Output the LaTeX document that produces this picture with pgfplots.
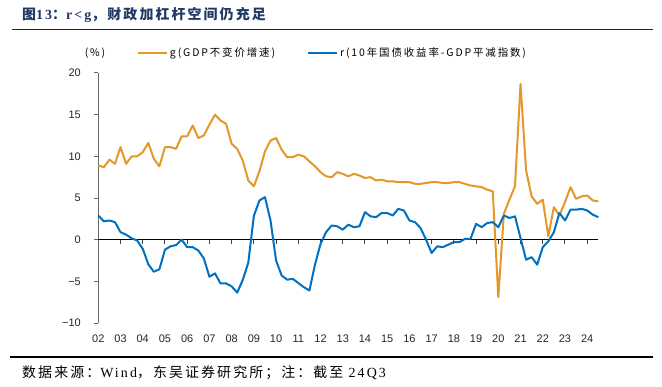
\documentclass[border=0pt]{standalone}
\usepackage{fontspec}
\usepackage{pgfplots}
\usepackage{pgfplotstable}
\pgfplotsset{compat=1.18}
\setmainfont{Liberation Sans}
\newfontfamily\cjk{Noto Sans CJK SC}
\newfontfamily\cjkleg{Noto Sans CJK SC}[LetterSpace=18]
\newfontfamily\cjktitle{Noto Sans CJK SC}[LetterSpace=15]
\newfontfamily\serif{Liberation Serif}
\newfontfamily\serifls{Liberation Serif}[LetterSpace=15]
\definecolor{gorange}{RGB}{228,152,40}
\definecolor{rblue}{RGB}{0,112,192}
\definecolor{titleblue}{RGB}{31,56,100}

\pgfplotstableread{
t g
0 8.9
0.25 8.7
0.5 9.6
0.75 9.1
1 11.1
1.25 9.1
1.5 10.0
1.75 10.0
2 10.5
2.25 11.6
2.5 9.7
2.75 8.8
3 11.1
3.25 11.1
3.5 10.9
3.75 12.4
4 12.4
4.25 13.7
4.5 12.2
4.75 12.5
5 13.8
5.25 15.0
5.5 14.3
5.75 13.9
6 11.5
6.25 10.9
6.5 9.5
6.75 7.1
7 6.4
7.25 8.2
7.5 10.6
7.75 11.9
8 12.2
8.25 10.8
8.5 9.9
8.75 9.9
9 10.2
9.25 10.0
9.5 9.4
9.75 8.8
10 8.1
10.25 7.6
10.5 7.5
10.75 8.1
11 7.9
11.25 7.6
11.5 7.9
11.75 7.7
12 7.4
12.25 7.5
12.5 7.1
12.75 7.2
13 7.0
13.25 7.0
13.5 6.9
13.75 6.9
14 6.9
14.25 6.7
14.5 6.7
14.75 6.8
15 6.9
15.25 6.9
15.5 6.8
15.75 6.8
16 6.9
16.25 6.9
16.5 6.7
16.75 6.5
17 6.4
17.25 6.3
17.5 6.0
17.75 5.8
18 -6.9
18.25 3.1
18.5 4.8
18.75 6.4
19 18.7
19.25 8.3
19.5 5.2
19.75 4.3
20 4.8
20.25 0.4
20.5 3.9
20.75 2.9
21 4.5
21.25 6.3
21.5 4.9
21.75 5.2
22 5.3
22.25 4.7
22.5 4.6
}\gtable

\pgfplotstableread{
t r
0 2.9
0.25 2.2
0.5 2.3
0.75 2.1
1 0.9
1.25 0.6
1.5 0.16
1.75 -0.1
2 -1.1
2.25 -2.95
2.5 -3.85
2.75 -3.55
3 -1.2
3.25 -0.8
3.5 -0.65
3.75 0.0
4 -0.9
4.25 -0.9
4.5 -1.3
4.75 -2.25
5 -4.45
5.25 -4.05
5.5 -5.25
5.75 -5.25
6 -5.6
6.25 -6.35
6.5 -4.85
6.75 -2.75
7 2.85
7.25 4.7
7.5 5.1
7.75 2.3
8 -2.5
8.25 -4.3
8.5 -4.8
8.75 -4.7
9 -5.2
9.25 -5.7
9.5 -6.1
9.75 -3.0
10 -0.5
10.25 0.9
10.5 1.7
10.75 1.6
11 1.2
11.25 1.8
11.5 1.5
11.75 1.6
12 3.3
12.25 2.8
12.5 2.7
12.75 3.2
13 3.2
13.25 2.9
13.5 3.7
13.75 3.5
14 2.3
14.25 2.1
14.5 1.4
14.75 0.0
15 -1.6
15.25 -0.8
15.5 -0.9
15.75 -0.6
16 -0.3
16.25 -0.3
16.5 0.1
16.75 0.1
17 1.9
17.25 1.5
17.5 2.0
17.75 2.1
18 1.5
18.25 2.9
18.5 2.6
18.75 2.8
19 0.2
19.25 -2.4
19.5 -2.1
19.75 -3.0
20 -0.9
20.25 -0.2
20.5 0.9
20.75 3.2
21 2.3
21.25 3.6
21.5 3.6
21.75 3.7
22 3.5
22.25 3.0
22.5 2.7
}\rtable

\begin{document}
\begin{tikzpicture}[x=1bp,y=1bp]
\useasboundingbox (0,0) rectangle (662,386);
\fill[white] (0,0) rectangle (662,386);
% title
\node[anchor=west, inner sep=0, text=titleblue, font=\fontsize{14}{16}\selectfont\bfseries] at (22,371)
  {{\cjktitle\bfseries 图}{\serifls\bfseries 13}{\cjktitle\bfseries ：}{\serifls\bfseries r<g}{\cjktitle\bfseries ，财政加杠杆空间仍充足}};
\draw[line width=1.5bp, black!85] (12,356.5) -- (653,356.5);
% source
\draw[line width=1.2bp, black] (10,29) -- (653,29);
\node[anchor=west, inner sep=0, font=\fontsize{14}{15}\selectfont] at (22,13)
  {{\cjktitle 数据来源：}{\serifls Wind}{\cjktitle ，东吴证券研究所；注：截至 }{\serifls 24Q3}};
% unit
\node[inner sep=0, font=\cjkleg\fontsize{10.5}{12}\selectfont] at (95,333) {(\%)};

\begin{axis}[
  at={(98.3bp,63bp)}, anchor=south west,
  scale only axis, width=500bp, height=250bp,
  xmin=0, xmax=22.5, ymin=-10, ymax=20,
  axis lines*=left,
  x axis line style={draw=none},
  y axis line style={draw=black!60, line width=1bp},
  xtick={0,...,22},
  xticklabels={02,03,04,05,06,07,08,09,10,11,12,13,14,15,16,17,18,19,20,21,22,23,24},
  xtick style={draw=none},
  ytick={-10,-5,0,5,10,15,20},
  yticklabels={−10,−5,0,5,10,15,20},
  ytick style={draw=black!60, line width=1bp},
  tick align=outside,
  major tick length=4bp,
  ticklabel style={font=\fontsize{11}{13}\selectfont, text=black!85},
  yticklabel style={xshift=-10bp},
  xticklabel style={yshift=-4bp},
  legend columns=2,
  legend cell align=left,
  legend style={at={(0.077,1.08)}, anchor=west, draw=none, fill=none, inner sep=0pt,
    font=\cjkleg\fontsize{10.5}{12}\selectfont,
    /tikz/every even column/.append style={column sep=30bp}},
  legend image code/.code={\draw[#1, line width=2bp] (0bp,0bp) -- (29bp,0bp);},
  clip=false,
]
\addplot[black, line width=1bp, no marks, forget plot] coordinates {(0,0) (22.5,0)};
\addplot[black!75, line width=1bp, ycomb, no marks, forget plot] coordinates {
(1,-0.5) (2,-0.5) (3,-0.5) (4,-0.5) (5,-0.5) (6,-0.5) (7,-0.5) (8,-0.5) (9,-0.5) (10,-0.5) (11,-0.5)
(12,-0.5) (13,-0.5) (14,-0.5) (15,-0.5) (16,-0.5) (17,-0.5) (18,-0.5) (19,-0.5) (20,-0.5) (21,-0.5) (22,-0.5)};
\addplot[gorange, line width=2bp, line join=round, no marks] table[x=t, y=g] {\gtable};
\addlegendentry{g(GDP不变价增速)}
\addplot[rblue, line width=2bp, line join=round, no marks] table[x=t, y=r] {\rtable};
\addlegendentry{r(10年国债收益率-GDP平减指数)}
\end{axis}
\end{tikzpicture}
\end{document}
